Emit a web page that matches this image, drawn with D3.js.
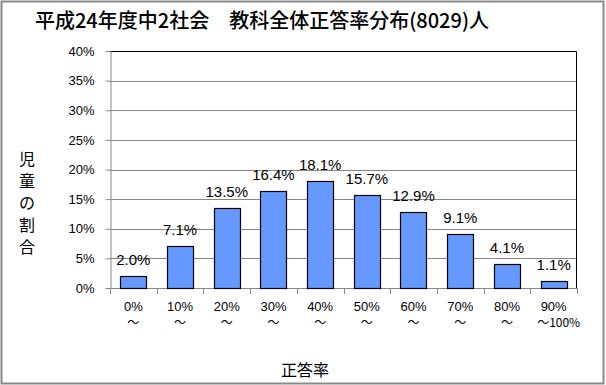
<!DOCTYPE html>
<html>
<head>
<meta charset="utf-8">
<script src="https://cdn.jsdelivr.net/npm/d3@7"></script>
<style>
  body { margin: 0; background: #fff; }
  text { font-family: "Liberation Sans", "Noto Sans CJK JP", sans-serif; fill: #000; }
  .jp { font-family: "Noto Sans CJK JP", sans-serif; }
</style>
</head>
<body>
<div class="chart"></div>
<script>
// chart data
var categories = ["0%", "10%", "20%", "30%", "40%", "50%", "60%", "70%", "80%", "90%"];
var catSecondLine = ["〜", "〜", "〜", "〜", "〜", "〜", "〜", "〜", "〜", "〜100%"];
var shares = [2.0, 7.1, 13.5, 16.4, 18.1, 15.7, 12.9, 9.1, 4.1, 1.1];
var yTicks = [0, 5, 10, 15, 20, 25, 30, 35, 40];

var svgWidth = 606;
var svgHeight = 385;

var chartMargin = { top: 51, right: 29, bottom: 97, left: 110 };
var chartWidth = svgWidth - chartMargin.left - chartMargin.right;
var chartHeight = svgHeight - chartMargin.top - chartMargin.bottom;

var svg = d3.select(".chart")
  .append("svg")
  .attr("width", svgWidth)
  .attr("height", svgHeight);

// outer border
svg.append("rect")
  .attr("x", 1.5).attr("y", 1.5)
  .attr("width", svgWidth - 4).attr("height", svgHeight - 3)
  .attr("fill", "#fff")
  .attr("stroke", "#888")
  .attr("stroke-width", 2);

var chartGroup = svg.append("g")
  .attr("transform", `translate(${chartMargin.left}, ${chartMargin.top})`);

var xBandScale = d3.scaleBand()
  .domain(categories)
  .range([0, chartWidth])
  .paddingInner(0.44)
  .paddingOuter(0.22);

var yLinearScale = d3.scaleLinear()
  .domain([0, 40])
  .range([chartHeight, 0]);

// gridlines
chartGroup.selectAll(".grid")
  .data(yTicks.slice(1, -1))
  .enter()
  .append("line")
  .attr("x1", 0).attr("x2", chartWidth)
  .attr("y1", d => Math.round(yLinearScale(d)) + 0.5)
  .attr("y2", d => Math.round(yLinearScale(d)) + 0.5)
  .attr("stroke", "#888")
  .attr("stroke-width", 1);

// top + right border of plot area
chartGroup.append("path")
  .attr("d", `M0,0.5H${chartWidth - 0.5}V${chartHeight}`)
  .attr("fill", "none")
  .attr("stroke", "#000")
  .attr("stroke-width", 1);

// left axis
var leftAxis = d3.axisLeft(yLinearScale)
  .tickValues(yTicks)
  .tickSize(5)
  .tickSizeOuter(0)
  .tickFormat(d => d + "%");

var yAxisG = chartGroup.append("g")
  .attr("transform", "translate(0.5,0)")
  .call(leftAxis);
yAxisG.select(".domain").attr("stroke", "#888");
yAxisG.selectAll(".tick line").attr("stroke", "#888");
yAxisG.selectAll(".tick text")
  .attr("x", -16)
  .style("font-size", "13px")
  .style("font-family", "\"Liberation Sans\", sans-serif");

// bottom axis (ticks at category boundaries)
var bounds = d3.range(categories.length + 1).map(i => i * chartWidth / categories.length);
chartGroup.append("line")
  .attr("x1", 0).attr("x2", chartWidth)
  .attr("y1", chartHeight + 0.5).attr("y2", chartHeight + 0.5)
  .attr("stroke", "#888");
chartGroup.selectAll(".xtick")
  .data(bounds)
  .enter()
  .append("line")
  .attr("x1", d => Math.round(d) + 0.5).attr("x2", d => Math.round(d) + 0.5)
  .attr("y1", chartHeight).attr("y2", chartHeight + 6)
  .attr("stroke", "#888");

// bars
chartGroup.selectAll(".bar")
  .data(shares)
  .enter()
  .append("rect")
  .attr("class", "bar")
  .attr("x", (d, i) => Math.round(xBandScale(categories[i])) + 0.5)
  .attr("width", Math.round(xBandScale.bandwidth()))
  .attr("y", d => Math.round(yLinearScale(d)) + 0.5)
  .attr("height", d => Math.round(chartHeight - yLinearScale(d)))
  .style("fill", "#6699ff")
  .attr("stroke", "#000")
  .attr("stroke-width", 1.2);

// value labels
chartGroup.selectAll(".val")
  .data(shares)
  .enter()
  .append("text")
  .attr("x", (d, i) => xBandScale(categories[i]) + xBandScale.bandwidth() / 2)
  .attr("y", d => yLinearScale(d) - 11)
  .attr("text-anchor", "middle")
  .style("font-size", "15px")
  .style("font-family", "\"Liberation Sans\", sans-serif")
  .text(d => d.toFixed(1) + "%");

// category labels
chartGroup.selectAll(".cat1")
  .data(categories)
  .enter()
  .append("text")
  .attr("x", d => xBandScale(d) + xBandScale.bandwidth() / 2)
  .attr("y", chartHeight + 23)
  .attr("text-anchor", "middle")
  .style("font-size", "13px")
  .text(d => d);

chartGroup.selectAll(".cat2")
  .data(catSecondLine)
  .enter()
  .append("text")
  .attr("class", "jp")
  .attr("x", (d, i) => xBandScale(categories[i]) + xBandScale.bandwidth() / 2 + (d.length > 1 ? 5 : 0))
  .attr("y", chartHeight + 39)
  .attr("text-anchor", "middle")
  .style("font-size", "12px")
  .text(d => d);

// title
svg.append("text")
  .attr("class", "jp")
  .attr("x", 262)
  .attr("y", 28)
  .attr("text-anchor", "middle")
  .style("font-size", "20px")
  .style("font-weight", 500)
  .text("平成24年度中2社会　教科全体正答率分布(8029)人");

// y axis title (vertical)
var yTitle = ["児", "童", "の", "割", "合"];
svg.selectAll(".ytitle")
  .data(yTitle)
  .enter()
  .append("text")
  .attr("class", "jp")
  .attr("x", 27)
  .attr("y", (d, i) => 165 + i * 22)
  .attr("text-anchor", "middle")
  .style("font-size", "16px")
  .text(d => d);

// x axis title
svg.append("text")
  .attr("class", "jp")
  .attr("x", 305)
  .attr("y", 376)
  .attr("text-anchor", "middle")
  .style("font-size", "16px")
  .text("正答率");
</script>
</body>
</html>
